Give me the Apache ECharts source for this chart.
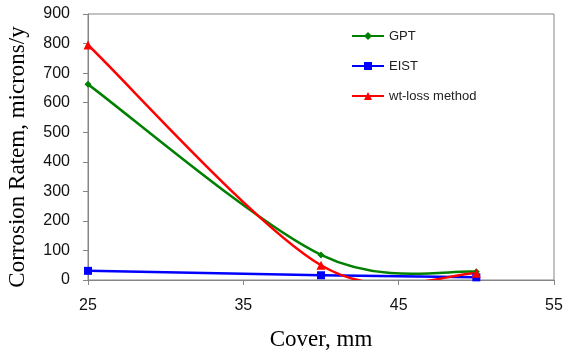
<!DOCTYPE html>
<html>
<head>
<meta charset="utf-8">
<script src="https://cdn.jsdelivr.net/npm/echarts@6/dist/echarts.min.js"></script>
<style>
html,body{margin:0;padding:0;background:#fff;}
#c{width:565px;height:355px;}
</style>
</head>
<body>
<div id="c"></div>
<script>
var coverMM = [25, 40, 50];
var gptValues = [662, 85, 28];
var eistValues = [31, 16, 9];
var wtLossValues = [795, 50, 23];
var xTickLabels = [25, 35, 45, 55];
var yTickMax = 900;
var yTickStep = 100;

function pairs(xs, ys) { return xs.map(function (x, i) { return [x, ys[i]]; }); }

// Excel-like (Catmull-Rom) smoothed curve, computed in pixel space from the axis scales
function curveSeries(id, ys, color) {
  return {
    id: id, name: id, type: 'custom', clip: true, z: 2,
    data: pairs(coverMM, ys),
    encode: {x: 0, y: 1},
    silent: true,
    renderItem: function (params, api) {
      if (params.dataIndex !== 0) return null;
      var P = coverMM.map(function (x, i) { return api.coord([x, ys[i]]); });
      var n = P.length, kids = [];
      for (var i = 0; i < n - 1; i++) {
        var p0 = P[Math.max(i - 1, 0)], p1 = P[i], p2 = P[i + 1], p3 = P[Math.min(i + 2, n - 1)];
        kids.push({
          type: 'bezierCurve',
          shape: {
            x1: p1[0], y1: p1[1],
            cpx1: p1[0] + (p2[0] - p0[0]) / 6, cpy1: p1[1] + (p2[1] - p0[1]) / 6,
            cpx2: p2[0] - (p3[0] - p1[0]) / 6, cpy2: p2[1] - (p3[1] - p1[1]) / 6,
            x2: p2[0], y2: p2[1]
          },
          style: {stroke: color, lineWidth: 2.5, fill: null, lineCap: 'round'}
        });
      }
      return {type: 'group', children: kids};
    }
  };
}

var chart = echarts.init(document.getElementById('c'), null, {renderer: 'canvas'});
var axisCol = '#868686';
chart.setOption({
  backgroundColor: '#ffffff',
  animation: false,
  grid: {left: 88, top: 14, right: 11, bottom: 75, show: true, borderColor: axisCol, borderWidth: 1,
         backgroundColor: 'transparent', containLabel: false, outerBoundsMode: 'none'},
  legend: {
    orient: 'vertical', left: 346, top: 24,
    itemWidth: 32, itemHeight: 10, itemGap: 16,
    textStyle: {fontFamily: 'Liberation Sans', fontSize: 13, color: '#222', lineHeight: 14},
    lineStyle: {opacity: 1, width: 2},
    data: ['GPT', 'EIST', 'wt-loss method']
  },
  xAxis: {
    type: 'value', min: 25, max: 55,
    name: 'Cover, mm', nameLocation: 'middle', nameGap: 48,
    nameTextStyle: {fontFamily: 'Liberation Serif', fontSize: 23, color: '#000'},
    axisLine: {show: true, lineStyle: {color: axisCol, width: 1}},
    axisTick: {show: true, inside: false, length: 5, lineStyle: {color: axisCol}, customValues: xTickLabels},
    axisLabel: {fontFamily: 'Liberation Sans', fontSize: 16, color: '#111', margin: 18, customValues: xTickLabels},
    splitLine: {show: false}
  },
  yAxis: {
    type: 'value', min: 0, max: yTickMax, interval: yTickStep,
    name: 'Corrosion Ratem, microns/y', nameLocation: 'middle', nameGap: 59,
    nameTextStyle: {fontFamily: 'Liberation Serif', fontSize: 23, color: '#000', padding: [0, 20, 0, 0]},
    axisLine: {show: true, lineStyle: {color: axisCol, width: 1}},
    axisTick: {show: true, inside: false, length: 5, lineStyle: {color: axisCol}},
    axisLabel: {fontFamily: 'Liberation Sans', fontSize: 16, color: '#111', margin: 18},
    splitLine: {show: false}
  },
  series: [
    curveSeries('GPT curve', gptValues, '#008000'),
    curveSeries('EIST curve', eistValues, '#0000ff'),
    curveSeries('wt-loss curve', wtLossValues, '#ff0000'),
    {name: 'GPT', type: 'line', z: 3, data: pairs(coverMM, gptValues),
     symbol: 'diamond', symbolSize: 7, itemStyle: {color: '#008000'},
     lineStyle: {color: '#008000', width: 2.5, opacity: 0}},
    {name: 'EIST', type: 'line', z: 3, data: pairs(coverMM, eistValues),
     symbol: 'rect', symbolSize: 8, itemStyle: {color: '#0000ff'},
     lineStyle: {color: '#0000ff', width: 2.5, opacity: 0}},
    {name: 'wt-loss method', type: 'line', z: 3, data: pairs(coverMM, wtLossValues),
     symbol: 'triangle', symbolSize: 9, itemStyle: {color: '#ff0000'},
     lineStyle: {color: '#ff0000', width: 2.5, opacity: 0}}
  ]
});
</script>
</body>
</html>
